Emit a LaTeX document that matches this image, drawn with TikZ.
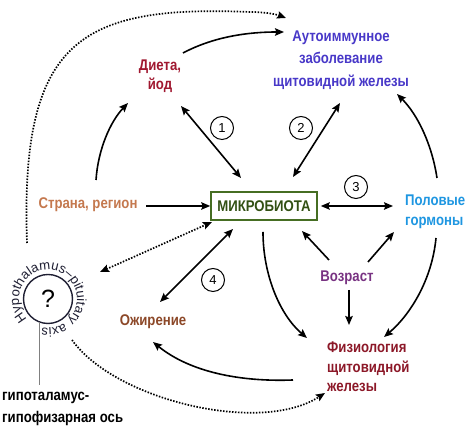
\documentclass[tikz,border=0pt]{standalone}
\usepackage{fontspec}
\setmainfont{Liberation Sans}
\newfontfamily\narrowfont[FakeStretch=0.85]{Liberation Sans}
\usetikzlibrary{arrows.meta,calc,decorations.text}
\definecolor{cstrana}{RGB}{196,120,78}
\definecolor{cdieta}{RGB}{160,24,48}
\definecolor{cauto}{RGB}{72,56,200}
\definecolor{cpol}{RGB}{30,150,225}
\definecolor{cvoz}{RGB}{120,50,130}
\definecolor{cfiz}{RGB}{140,24,40}
\definecolor{cozh}{RGB}{140,72,40}
\definecolor{microtext}{RGB}{50,80,20}
\definecolor{microborder}{RGB}{70,110,35}
\definecolor{hpacol}{RGB}{30,30,50}
\begin{document}
\begin{tikzpicture}[x=1pt,y=1pt,
  >={Stealth[length=9pt,width=7.5pt,inset=1.5pt]},
  lbl/.style={font=\narrowfont\bfseries\fontsize{15.5}{19}\selectfont, inner sep=1pt, align=center},
  arr/.style={line width=1.6pt,->},
  darr/.style={line width=1.6pt,<->},
  dots/.style={line width=1.7pt,dash pattern=on 1.5pt off 1.5pt},
  num/.style={circle,draw,line width=1pt,minimum size=23pt,inner sep=0pt,font=\fontsize{13}{13}\selectfont}]
\useasboundingbox (0,0) rectangle (474,430);

% nodes
\node[draw=microborder, line width=1.6pt, minimum width=106pt, minimum height=28pt, inner sep=0pt, text=microtext, font=\narrowfont\bfseries\fontsize{15.5}{19}\selectfont] (micro) at (264,224) {МИКРОБИОТА};
\node[lbl,text=cstrana] (strana) at (88,225) {Страна, регион};
\node[lbl,text=cdieta] (dieta) at (160,354) {Диета,\\йод};
\node[lbl,text=cauto,font=\narrowfont\bfseries\fontsize{15.5}{22.5}\selectfont] (auto) at (341,370) {Аутоиммунное\\заболевание\\щитовидной железы};
\node[lbl,text=cpol,align=left,anchor=west,font=\narrowfont\bfseries\fontsize{15.5}{20}\selectfont] (polovye) at (404,218) {Половые\\гормоны};
\node[lbl,text=cvoz] (vozrast) at (347,152) {Возраст};
\node[lbl,text=cfiz,align=left,anchor=west,font=\narrowfont\bfseries\fontsize{15.5}{19.5}\selectfont] (fiz) at (326,63) {Физиология\\щитовидной\\железы};
\node[lbl,text=cozh] (ozh) at (153,108) {Ожирение};
\node[circle,draw=hpacol,line width=1.4pt,minimum size=49pt,inner sep=0pt,font=\fontsize{25}{25}\selectfont] (hpa) at (48,131) {?};
\node[lbl,text=black,align=left,anchor=west,font=\narrowfont\bfseries\fontsize{15.5}{22}\selectfont] (hpalbl) at (1,21) {гипоталамус-\\гипофизарная ось};
\coordinate (hpalinebot) at (39,45);

\node[num] (n1) at (222,302) {1};
\node[num] (n2) at (301,302) {2};
\node[num] (n3) at (356,243) {3};
\node[num] (n4) at (213,150) {4};

% text around the HPA circle
\path[decorate,decoration={text along path,text={|\fontsize{13.2}{14}\selectfont\color{hpacol}|Hypothalamus–pituitary axis},text align=left}]
  ($(hpa)+(224:29)$) arc[start angle=224,end angle=-125,radius=29];

% connectors
\draw[arr] ($(strana)+(58,-1)$) -- (micro.west);
\draw[arr] ($(strana)+(8,25)$) .. controls (98,280) and (110,308) .. ($(dieta)+(-32,-27)$);
\draw[arr] ($(dieta)+(23,23)$) .. controls (215,394) and (250,398) .. ($(auto)+(-57,28)$);
\draw[darr] ($(dieta)+(21,-30)$) -- ($(micro)+(-23,28)$);
\draw[darr] ($(auto)+(-1,-43)$) -- ($(micro)+(29,29)$);
\draw[arr] ($(polovye.west)+(33,34)$) .. controls (432,285) and (418,315) .. ($(auto)+(56,-34)$);
\draw[darr] ($(micro.east)+(3,0)$) -- ($(polovye.west)+(-11,6)$);
\draw[arr] ($(vozrast)+(-18,18)$) -- ($(micro)+(38,-25)$);
\draw[arr] ($(vozrast)+(21,16)$) -- ($(polovye.west)+(-10,-20)$);
\draw[arr] ($(vozrast)+(2,-12)$) -- ($(fiz.west)+(23,42)$);
\draw[arr] ($(micro)+(-1,-26)$) .. controls (263,155) and (280,115) .. ($(fiz.west)+(-19,29)$);
\draw[arr] ($(polovye.west)+(32,-26)$) .. controls (432,150) and (410,115) .. ($(fiz.west)+(58,30)$);
\draw[arr] ($(fiz.west)+(-33,-13)$) .. controls (240,48) and (190,58) .. ($(ozh)+(0,-20)$);
\draw[darr] ($(ozh)+(7,20)$) -- ($(micro)+(-31,-23)$);
\draw[dots,<->] ($(hpa)+(52,27)$) -- ($(micro)+(-52,-16)$);
\draw[dots,->] ($(hpa)+(-21,56)$) .. controls (20,390) and (80,425) .. (250,418) .. controls (268,418) and (278,415) .. ($(auto)+(-55,42)$);
\draw[dots,->] ($(hpa)+(24,-41)$) .. controls (115,30) and (260,-5) .. ($(fiz.west)+(-1,-26)$);
\draw[line width=1pt,gray] ($(hpa)+(-9,-23)$) -- (hpalinebot);
\end{tikzpicture}
\end{document}
